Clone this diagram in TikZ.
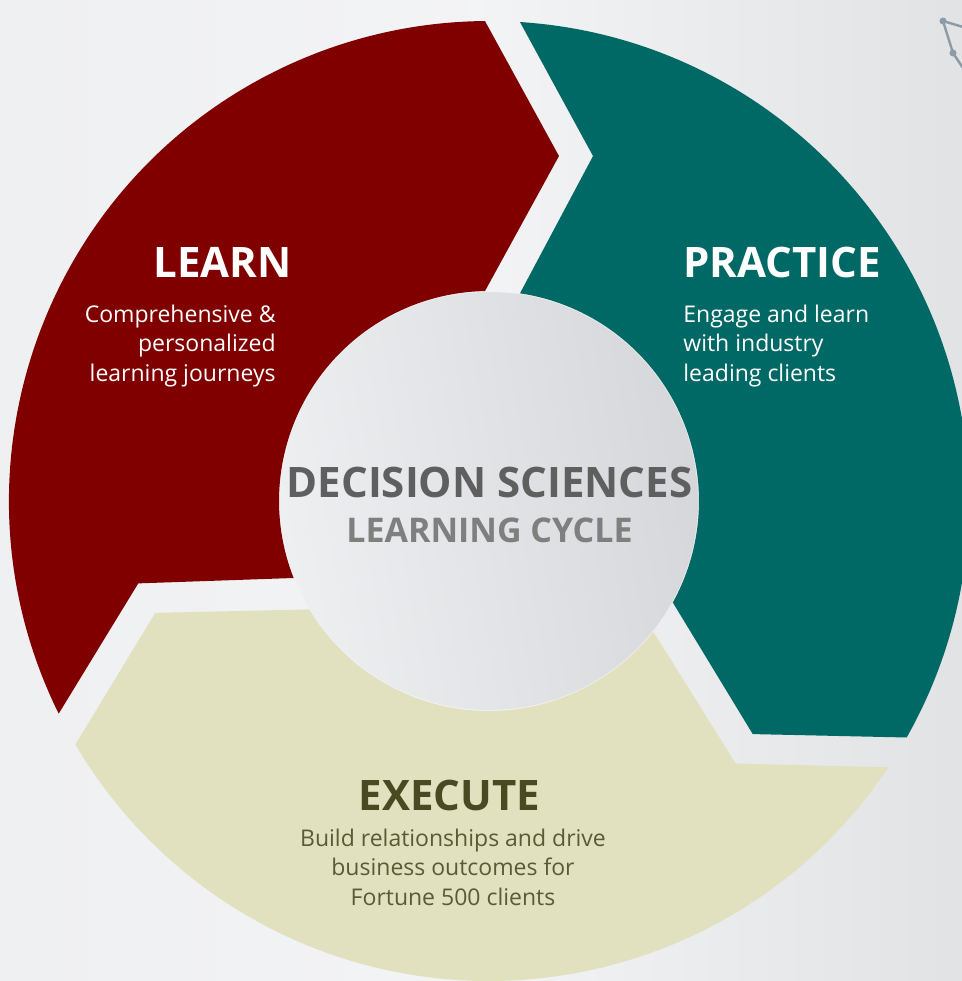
\documentclass[tikz,border=0pt]{standalone}
\usepackage{fontspec}
\setmainfont{Open Sans}
\usetikzlibrary{shadings}
\definecolor{bgc}{HTML}{EBECEE}
\definecolor{innerL}{HTML}{EEEFF1}
\definecolor{innerR}{HTML}{D6D7DA}
\definecolor{learnc}{HTML}{800000}
\definecolor{practc}{HTML}{006966}
\definecolor{execc}{HTML}{E1E1C0}
\definecolor{exectitle}{HTML}{4A4A22}
\definecolor{exectext}{HTML}{5A5A33}
\definecolor{ctrA}{HTML}{5F5F5F}
\definecolor{ctrB}{HTML}{7F7F7F}
\definecolor{iconc}{HTML}{8C9BA8}
\tikzset{
  title/.style={inner sep=0pt,font=\fontsize{21pt}{26pt}\selectfont\bfseries},
  body/.style={inner sep=0pt,font=\fontsize{11.5pt}{14.75pt}\selectfont},
  ctrtext/.style={inner sep=0pt,font=\bfseries},
}
\begin{document}
\begin{tikzpicture}[x=0.5pt,y=0.5pt]
\useasboundingbox (-489,-480) rectangle (473,501);
\clip (-489,-480) rectangle (473,501);
% background
\fill[left color=bgc!80!white,right color=bgc!96!black,middle color=bgc!60!white] (-489,-480) rectangle (473,501);
% segments
\fill[learnc] (206.30:480) arc[start angle=206.30,end angle=90.48,radius=480]
  -- (78.53:352) -- (91.09:210) arc[start angle=91.09,end angle=201.51,radius=210]
  -- (193.22:360.3) -- cycle;
\fill[practc] (86.30:480) arc[start angle=86.30,end angle=-29.52,radius=480]
  -- (-41.47:352) -- (-28.91:210) arc[start angle=-28.91,end angle=81.51,radius=210]
  -- (73.22:360.3) -- cycle;
\fill[execc] (-33.70:480) arc[start angle=-33.70,end angle=-149.52,radius=480]
  -- (-161.47:352) -- (-148.91:210) arc[start angle=-148.91,end angle=-38.49,radius=210]
  -- (-46.78:360.3) -- cycle;
% inner circle
\shade[left color=innerL,right color=innerR,shading angle=100] (0,0) circle[radius=209];
% icon
\coordinate (i1) at (454,480);
\coordinate (i2) at (464,448);
\coordinate (i3) at (474,474);
\coordinate (i4) at (474,433);
\draw[iconc,line width=1.2pt] (i3) -- (i1) -- (i2) -- (i4);
\fill[iconc] (i1) circle[radius=3.5] (i2) circle[radius=3.5];
% texts
\node[title,text=white,anchor=base east] (learnT) at (-197,224) {LEARN};
\node[body,text=white,anchor=base east] (learnB) at (-213,179)
  {\begin{tabular}[t]{@{}r@{}}Comprehensive \&\\personalized\\learning journeys\end{tabular}};
\node[title,text=white,anchor=base west] (practT) at (194,224) {PRACTICE};
\node[body,text=white,anchor=base west] (practB) at (194,179)
  {\begin{tabular}[t]{@{}l@{}}Engage and learn\\with industry\\leading clients\end{tabular}};
\node[title,text=exectitle,anchor=base] (execT) at (-39.5,-309) {EXECUTE};
\node[body,text=exectext,anchor=base] (execB) at (-36,-345)
  {\begin{tabular}[t]{@{}c@{}}Build relationships and drive\\business outcomes for\\Fortune 500 clients\end{tabular}};
\node[ctrtext,text=ctrA,anchor=base,font=\fontsize{21pt}{25pt}\selectfont\bfseries] (ctr1) at (0.5,4) {DECISION SCIENCES};
\node[ctrtext,text=ctrB,anchor=base,font=\fontsize{17pt}{20pt}\selectfont\bfseries] (ctr2) at (0.5,-41) {LEARNING CYCLE};
\end{tikzpicture}
\end{document}
